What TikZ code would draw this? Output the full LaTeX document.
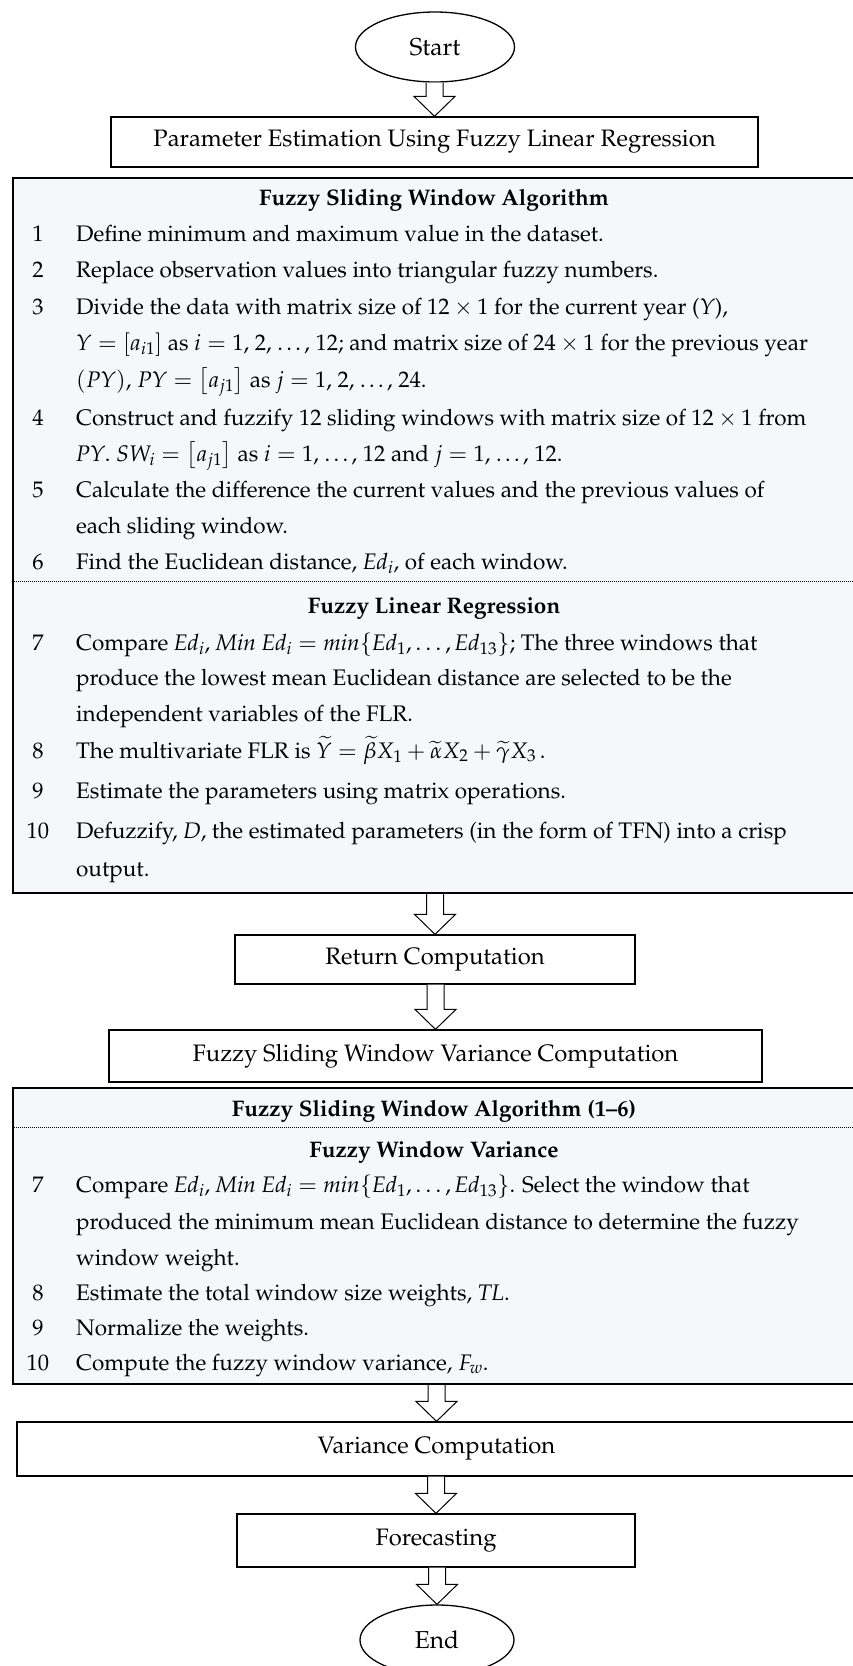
\documentclass[tikz,border=0pt]{standalone}
\usepackage[T1]{fontenc}
\usepackage{mathpazo}
\usetikzlibrary{calc,shapes.geometric}
\definecolor{bggray}{RGB}{246,247,249}
\newcommand\fs{\fontsize{22.5}{27}\selectfont}
\newcommand\fsbox{\fontsize{23.8}{28}\selectfont}
\newcommand\barrow[2]{%
  \draw[barrowstyle] let \p1=(#1), \p2=(#2) in
    (\x2-8.5pt,\y1) -- (\x2-8.5pt,\y2+20pt) -- (\x2-20.5pt,\y2+20pt) -- (\x2,\y2)
    -- (\x2+20.5pt,\y2+20pt) -- (\x2+8.5pt,\y2+20pt) -- (\x2+8.5pt,\y1);}
\newcommand\itemline[4]{%
  \node[num] (#1n) at (38,#2) {#3};
  \node[txt] (#1t) at (76,#2) {#4};}
\newcommand\contline[3]{%
  \node[txt] (#1) at (76,#2) {#3};}
\begin{document}
\begin{tikzpicture}[x=1pt,y=-1pt,
  every node/.style={font=\fs},
  flowbox/.style={draw, line width=1.3pt, rectangle, inner sep=0pt, font=\fsbox},
  term/.style={draw, ellipse, line width=1.3pt, inner sep=0pt, font=\fontsize{24.5}{29}\selectfont},
  bigbox/.style={draw, line width=2pt, fill=bggray, rectangle, inner sep=0pt, anchor=north west},
  txt/.style={anchor=base west, inner sep=0pt},
  num/.style={anchor=base, inner sep=0pt},
  head/.style={anchor=base, inner sep=0pt, font=\fs\bfseries},
  sep/.style={line width=0.9pt, dash pattern=on 1.2pt off 0.8pt},
  barrowstyle/.style={draw, line width=1pt, fill=white}]
\useasboundingbox (0,0) rectangle (853,1666);
\fill[white] (0,0) rectangle (853,1666);

% terminals and boxes
\node[term, minimum width=159pt, minimum height=70pt] (start) at (435,47) {Start};
\node[flowbox, minimum width=647pt, minimum height=50pt] (p1) at (434.5,142) {Parameter Estimation Using Fuzzy Linear Regression};
\node[bigbox, minimum width=844pt, minimum height=715pt] (alg1) at (12,177) {};
\node[flowbox, minimum width=400pt, minimum height=49pt] (ret) at (435,959.5) {Return Computation};
\node[flowbox, minimum width=653pt, minimum height=52pt] (fsw) at (435.5,1056) {Fuzzy Sliding Window Variance Computation};
\node[bigbox, minimum width=844pt, minimum height=296pt] (alg2) at (12,1087) {};
\node[flowbox, minimum width=839pt, minimum height=54pt] (var) at (436.5,1449) {Variance Computation};
\node[flowbox, minimum width=398pt, minimum height=53pt] (fore) at (436,1540.5) {Forecasting};
\node[term, minimum width=154pt, minimum height=70pt] (end) at (437,1640) {End};

% block arrows
\barrow{start.south}{p1.north}
\barrow{alg1.south}{ret.north}
\barrow{ret.south}{fsw.north}
\barrow{alg2.south}{var.north}
\barrow{var.south}{fore.north}
\barrow{fore.south}{end.north}

% ---- first algorithm box
\node[head] (h1) at (434,205) {Fuzzy Sliding Window Algorithm};
\itemline{a1}{241}{1}{Define minimum and maximum value in the dataset.}
\itemline{a2}{277}{2}{Replace observation values into triangular fuzzy numbers.}
\itemline{a3}{314}{3}{Divide the data with matrix size of $12\times1$ for the current year (\textit{Y}),}
\contline{a3b}{350}{$Y=[a_{i1}]$ as $i=1$, 2, \ldots, 12; and matrix size of $24\times1$ for the previous year}
\contline{a3c}{387}{$(PY)$, $PY=\left[a_{j1}\right]$ as $j=1$, 2, \ldots, 24.}
\itemline{a4}{425}{4}{Construct and fuzzify 12 sliding windows with matrix size of $12\times1$ from}
\contline{a4b}{461}{\textit{PY}. $SW_i=\left[a_{j1}\right]$ as $i=1$, \ldots, 12 and $j=1$, \ldots, 12.}
\itemline{a5}{497}{5}{Calculate the difference the current values and the previous values of}
\contline{a5b}{533}{each sliding window.}
\itemline{a6}{569}{6}{Find the Euclidean distance, $\mathit{Ed}_i$, of each window.}
\draw[sep] (12,581) -- (856,581);
\node[head] (h2) at (434,613) {Fuzzy Linear Regression};
\itemline{a7}{650}{7}{Compare $\mathit{Ed}_i$, $\mathit{Min}\ \mathit{Ed}_i=\mathit{min}\{\mathit{Ed}_1, \ldots, \mathit{Ed}_{13}\}$; The three windows that}
\contline{a7b}{685}{produce the lowest mean Euclidean distance are selected to be the}
\contline{a7c}{721}{independent variables of the FLR.}
\itemline{a8}{758}{8}{The multivariate FLR is $\widetilde{Y}=\widetilde{\beta}X_1+\widetilde{\alpha}X_2+\widetilde{\gamma}X_3$\,.}
\itemline{a9}{798}{9}{Estimate the parameters using matrix operations.}
\itemline{a10}{838}{10}{Defuzzify, \textit{D}, the estimated parameters (in the form of TFN) into a crisp}
\contline{a10b}{876}{output.}

% ---- second algorithm box
\node[head] (h3) at (434,1116) {Fuzzy Sliding Window Algorithm (1--6)};
\draw[sep] (12,1127) -- (856,1127);
\node[head] (h4) at (434,1157) {Fuzzy Window Variance};
\itemline{b7}{1192}{7}{Compare $\mathit{Ed}_i$, $\mathit{Min}\ \mathit{Ed}_i=\mathit{min}\{\mathit{Ed}_1, \ldots, \mathit{Ed}_{13}\}$. Select the window that}
\contline{b7b}{1229}{produced the minimum mean Euclidean distance to determine the fuzzy}
\contline{b7c}{1265}{window weight.}
\itemline{b8}{1300}{8}{Estimate the total window size weights, \textit{TL}.}
\itemline{b9}{1335}{9}{Normalize the weights.}
\itemline{b10}{1370}{10}{Compute the fuzzy window variance, $F_w$.}
\end{tikzpicture}
\end{document}
